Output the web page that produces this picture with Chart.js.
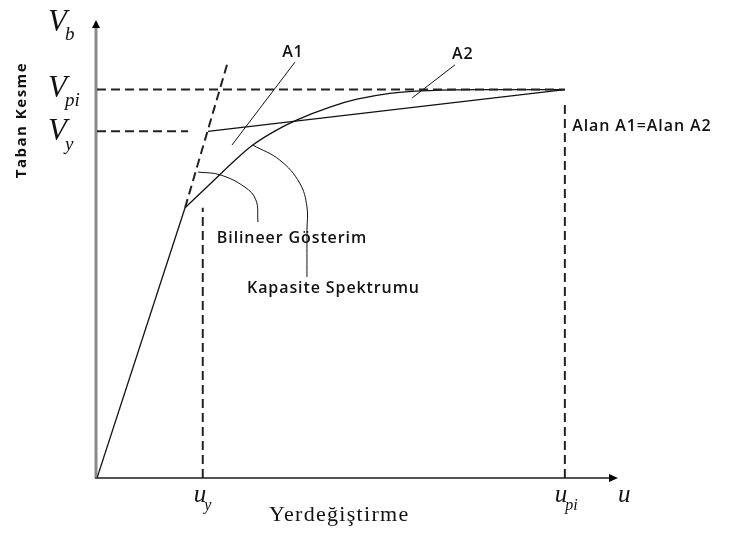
<!DOCTYPE html>
<html>
<head>
<meta charset="utf-8">
<script src="https://cdn.jsdelivr.net/npm/chart.js@4"></script>
<style>
  body { margin: 0; background: #fff; }
  #wrap { position: relative; width: 731px; height: 534px; }
</style>
</head>
<body>
<div id="wrap"><canvas id="chart"></canvas></div>
<script>
// characteristic values
const uy = 20.3, upi = 89.8, Vy = 75.7, Vpi = 84.8;

// capacity curve (displacement, base shear)
const capX = [0, 16.9, 21.7, 26.5, 29.9, 34.2, 38.4, 44.7, 49.9, 56.2, 63.9, 73.5, upi];
const capY = [0, 59.0, 64.2, 69.4, 72.7, 75.8, 78.2, 81.0, 82.7, 84.0, 84.6, 84.8, Vpi];

// bilinear idealisation
const elasticX = [16.9, 25.1];
const elasticY = [59.0, 90.8];
const hardX = [21.3, upi];
const hardY = [Vy, Vpi];

// leader lines for the notes
const leadA1X = [38.0, 25.9], leadA1Y = [90.8, 72.7];
const leadA2X = [68.7, 60.5], leadA2Y = [90.2, 83.0];
const leadBilX = [19.4, 23.6, 28.4, 30.5, 30.9], leadBilY = [66.8, 66.2, 63.5, 60.7, 55.9];
const leadCapX = [29.9, 35.1, 38.9, 40.3, 40.3, 40.3], leadCapY = [72.7, 69.4, 64.4, 59.2, 54.1, 43.9];

const pts = (xs, ys) => xs.map((x, i) => ({ x: x, y: ys[i] }));

function line(data, opts) {
    return Object.assign({
        data: data,
        showLine: true,
        pointRadius: 0,
        borderColor: '#111',
        borderWidth: 1.3,
        fill: false
    }, opts || {});
}

const dash = { borderDash: [9, 5], borderWidth: 2, borderColor: '#222' };

// axes with arrows, tick symbols and text notes
const drawing = {
    id: 'drawing',
    beforeDatasetsDraw(chart) {
        const ctx = chart.ctx, a = chart.chartArea;
        ctx.save();
        ctx.strokeStyle = '#8a8a8a';
        ctx.lineWidth = 3;
        ctx.beginPath();
        ctx.moveTo(a.left - 1, a.bottom);
        ctx.lineTo(a.left - 1, a.top + 4);
        ctx.stroke();
        ctx.strokeStyle = '#555';
        ctx.lineWidth = 2;
        ctx.beginPath();
        ctx.moveTo(a.left - 2, a.bottom);
        ctx.lineTo(a.right - 5, a.bottom);
        ctx.stroke();
        ctx.fillStyle = '#000';
        ctx.beginPath();
        ctx.moveTo(a.left - 1, a.top);
        ctx.lineTo(a.left - 5, a.top + 8);
        ctx.lineTo(a.left + 3, a.top + 8);
        ctx.closePath();
        ctx.fill();
        ctx.beginPath();
        ctx.moveTo(a.right, a.bottom);
        ctx.lineTo(a.right - 9, a.bottom - 4);
        ctx.lineTo(a.right - 9, a.bottom + 4);
        ctx.closePath();
        ctx.fill();
        ctx.restore();
    },
    afterDraw(chart) {
        const ctx = chart.ctx, a = chart.chartArea;
        const sx = chart.scales.x, sy = chart.scales.y;
        const serif = '"Liberation Serif", "DejaVu Serif", serif';
        const sans = '"Open Sans", "Liberation Sans", sans-serif';
        ctx.save();
        ctx.fillStyle = '#111';
        ctx.textBaseline = 'alphabetic';

        function sym(main, sub, x, y, size) {
            ctx.textAlign = 'left';
            ctx.font = 'italic ' + size + 'px ' + serif;
            ctx.fillText(main, x, y);
            const w = ctx.measureText(main).width;
            ctx.font = 'italic ' + Math.round(size * 0.62) + 'px ' + serif;
            ctx.fillText(sub, x + w - 2, y + size * 0.3);
        }

        // y-axis symbols
        sym('V', 'b', 48, 31, 31);
        sym('V', 'pi', 48, sy.getPixelForValue(Vpi) + 7, 31);
        sym('V', 'y', 48, sy.getPixelForValue(Vy) + 9, 31);
        // x-axis symbols
        sym('u', 'y', sx.getPixelForValue(uy) - 9, a.bottom + 24, 25);
        sym('u', 'pi', sx.getPixelForValue(upi) - 10, a.bottom + 24, 25);
        ctx.font = 'italic 25px ' + serif;
        ctx.fillText('u', a.right, a.bottom + 24);

        // axis titles
        ctx.font = '22px ' + serif;
        ctx.letterSpacing = '1.3px';
        ctx.textAlign = 'left';
        ctx.fillText('Yerdeğiştirme', 269, 521);
        ctx.save();
        ctx.translate(26, 120);
        ctx.rotate(-Math.PI / 2);
        ctx.textAlign = 'center';
        ctx.font = 'bold 15px ' + sans;
        ctx.letterSpacing = '1.5px';
        ctx.fillText('Taban Kesme', 0, 0);
        ctx.restore();

        // notes
        ctx.font = '600 16px ' + sans;
        ctx.letterSpacing = '0.9px';
        ctx.textAlign = 'center';
        ctx.fillText('A1', sx.getPixelForValue(37.6), sy.getPixelForValue(91.9));
        ctx.fillText('A2', sx.getPixelForValue(70.2), sy.getPixelForValue(91.5));
        ctx.textAlign = 'left';
        ctx.fillText('Bilineer Gösterim', sx.getPixelForValue(23.0), sy.getPixelForValue(51.3));
        ctx.fillText('Kapasite Spektrumu', sx.getPixelForValue(28.8), sy.getPixelForValue(40.4));
        ctx.fillText('Alan A1=Alan A2', sx.getPixelForValue(91.2), sy.getPixelForValue(75.8));
        ctx.restore();
    }
};

new Chart(document.getElementById('chart'), {
    type: 'scatter',
    data: {
        datasets: [
            line(pts([0, upi], [Vpi, Vpi]), dash),
            line(pts([0, 17.5], [Vy, Vy]), dash),
            line(pts([uy, uy], [0, 59.0]), dash),
            line(pts([upi, upi], [0, 82.5]), dash),
            line(pts(elasticX, elasticY), dash),
            line(pts(capX.slice(0, 2), capY.slice(0, 2))),
            line(pts(capX.slice(1), capY.slice(1)), { cubicInterpolationMode: 'monotone' }),
            line(pts(hardX, hardY)),
            line(pts(leadA1X, leadA1Y), { borderWidth: 1 }),
            line(pts(leadA2X, leadA2Y), { borderWidth: 1 }),
            line(pts(leadBilX, leadBilY), { borderWidth: 1, tension: 0.4 }),
            line(pts(leadCapX, leadCapY), { borderWidth: 1, tension: 0.4 })
        ]
    },
    options: {
        responsive: true,
        maintainAspectRatio: false,
        animation: false,
        layout: { padding: { left: 97, top: 20, right: 113, bottom: 56 } },
        plugins: { legend: { display: false }, tooltip: { enabled: false } },
        scales: {
            x: { type: 'linear', min: 0, max: 100, display: false },
            y: { type: 'linear', min: 0, max: 100, display: false }
        }
    },
    plugins: [drawing]
});
</script>
</body>
</html>
